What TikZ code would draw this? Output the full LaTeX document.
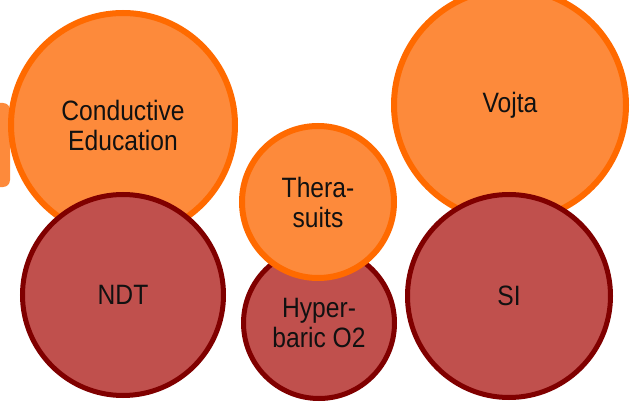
\documentclass[tikz,border=0pt]{standalone}
\usepackage{fontspec}
\setmainfont{Liberation Sans}[FakeStretch=0.88]
\usetikzlibrary{backgrounds}
\definecolor{orfill}{HTML}{FD8A3B}
\definecolor{ordraw}{HTML}{FF6A00}
\definecolor{rdfill}{HTML}{C0504D}
\definecolor{rddraw}{HTML}{800000}
\definecolor{conncol}{HTML}{808080}
\definecolor{txt}{HTML}{111111}
\tikzset{
  orb/.style={circle, fill=orfill, draw=ordraw, line width=6pt, inner sep=0pt,
    text=txt, align=center, font=\fontsize{28}{30}\selectfont},
  rdb/.style={circle, fill=rdfill, draw=rddraw, line width=5pt, inner sep=0pt,
    text=txt, align=center, font=\fontsize{28}{30}\selectfont},
  conn/.style={draw=conncol, line width=3pt}
}
\begin{document}
\begin{tikzpicture}[x=1pt,y=-1pt]
\useasboundingbox (0,0) rectangle (635,404);
\clip (0,0) rectangle (635,404);
\fill[white] (0,0) rectangle (635,404);
% side tab
\fill[orfill, rounded corners=7pt] (-12,103) rectangle (10,187);
% top circles
\node[orb, minimum size=224pt] (ce) at (123,125) {Conductive\\Education};
\node[orb, minimum size=232pt] (vo) at (510,105) {Vojta};
% bottom circles
\node[rdb, minimum size=201pt] (ndt) at (123,295) {NDT};
\node[rdb, minimum size=203pt] (si) at (509,296) {SI};
\node[rdb, minimum size=151pt] (hb) at (319,323) {Hyper-\\baric O2};
\node[orb, minimum size=152pt] (th) at (318,202) {Thera-\\suits};
% connectors
\coordinate (t1) at (123,0);
\coordinate (t2) at (318,0);
\coordinate (b1) at (123,404);
\begin{pgfonlayer}{background}
\draw[conn] (t1) -- (ce.north);
\draw[conn] (t2) -- (th.north);
\draw[conn] (ndt.south) -- (b1);
\end{pgfonlayer}
\end{tikzpicture}
\end{document}
